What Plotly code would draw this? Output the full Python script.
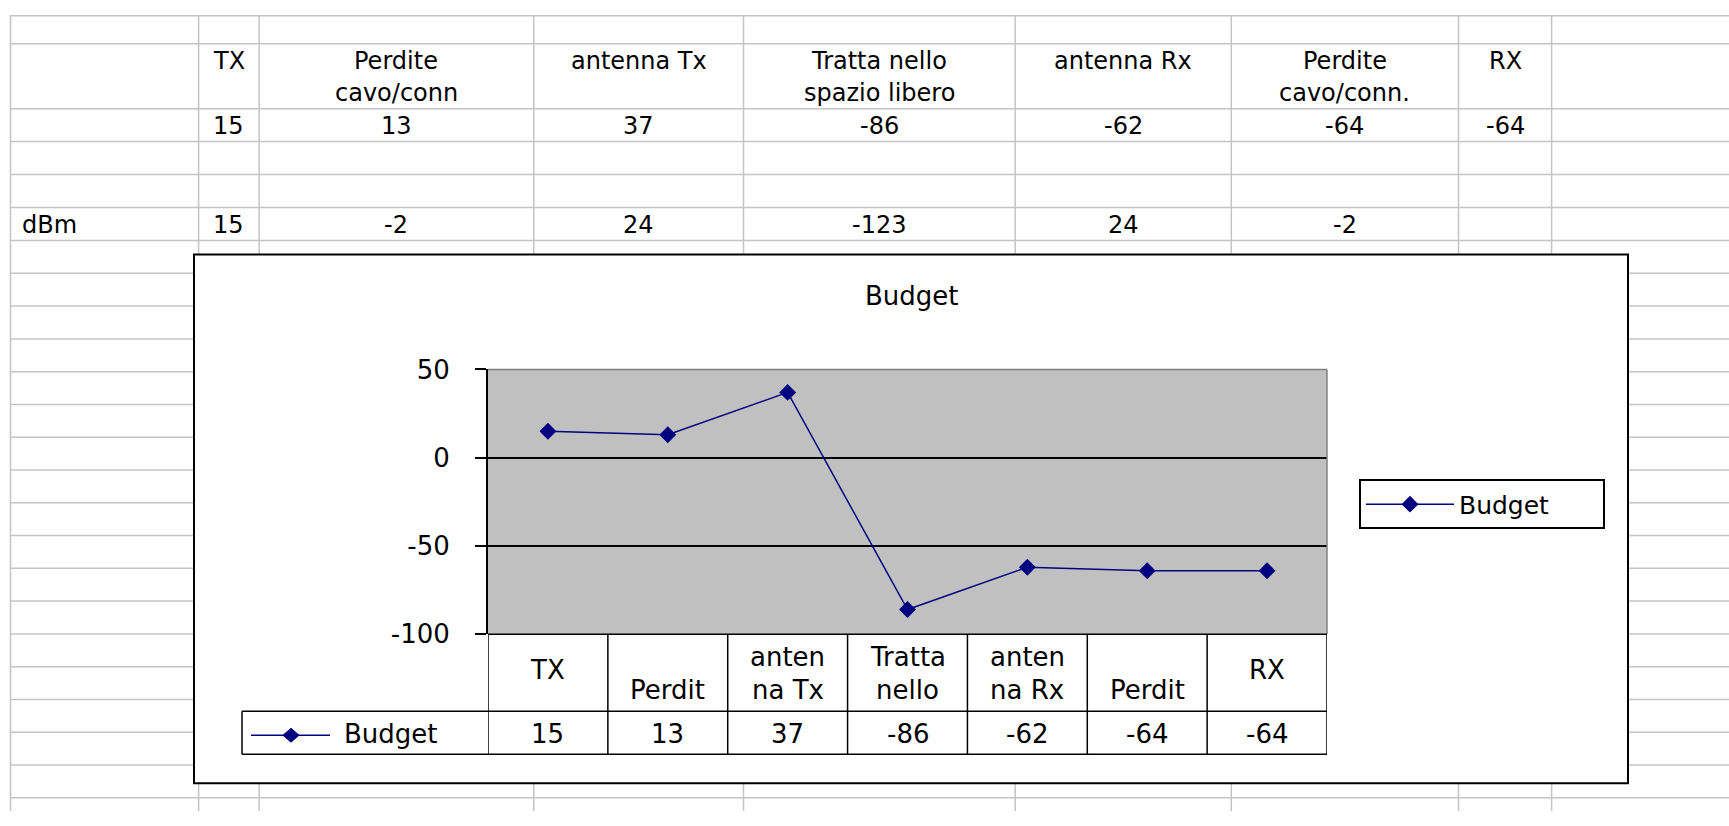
import plotly.graph_objects as go

# ---------------- data ----------------
categories = ["TX", "Perdite cavo/conn", "antenna Tx", "Tratta nello spazio libero",
              "antenna Rx", "Perdite cavo/conn.", "RX"]
sheet_header_lines = [["TX"], ["Perdite", "cavo/conn"], ["antenna Tx"],
                      ["Tratta nello", "spazio libero"], ["antenna Rx"],
                      ["Perdite", "cavo/conn."], ["RX"]]
budget = [15, 13, 37, -86, -62, -64, -64]
dbm = [15, -2, 24, -123, 24, -2, None]
dbm_label = "dBm"
table_labels = [["TX"], ["", "Perdit"], ["anten", "na Tx"], ["Tratta", "nello"],
                ["anten", "na Rx"], ["", "Perdit"], ["RX"]]
y_tickvals = [-100, -50, 0, 50]
y_ticktext = ["-100", "-50", "0", "50"]
series_name = "Budget"
chart_title = "Budget"

# ---------------- layout helpers ----------------
W, H = 1729, 826
FONT = "DejaVu Sans"
GRID = "#C4C4C4"
NAVY = "#000080"


def fx(x):
    return x / W


def fy(y):
    # vertical placement (screen px -> paper), compensated for the capture
    return 1 - (1.037 * y - 13.8) / H


col_edges = [198.6, 259.1, 533.8, 743.5, 1015.2, 1231.3, 1458.5, 1551.6]
sheet_left = 10.5
row_edges = [9, 42, 107, 140, 173, 206, 239] + [239 + 32.8 * k for k in range(1, 18)]

PLOT_L, PLOT_R, PLOT_T, PLOT_B = 488, 1327, 368, 633
TAB_MID, TAB_BOT, TAB_LEFT = 710, 753, 242

shapes = []
# spreadsheet grid
for y in row_edges:
    shapes.append(dict(type="line", xref="paper", yref="paper", x0=fx(sheet_left), x1=1,
                       y0=min(fy(y), 0.999), y1=min(fy(y), 0.999),
                       line=dict(color=GRID, width=1.5), layer="below"))
for x in [sheet_left] + col_edges:
    shapes.append(dict(type="line", xref="paper", yref="paper", x0=fx(x), x1=fx(x),
                       y0=1, y1=0, line=dict(color=GRID, width=1.5), layer="below"))
# chart box
shapes.append(dict(type="rect", xref="paper", yref="paper", x0=fx(194), x1=fx(1628),
                   y0=fy(782), y1=fy(253), fillcolor="white",
                   line=dict(color="black", width=2), layer="below"))
# plot area background
shapes.append(dict(type="rect", xref="x domain", yref="y domain", x0=0, x1=1, y0=0, y1=1,
                   fillcolor="#C0C0C0", line=dict(width=0), layer="below"))
# plot area top/right border
shapes.append(dict(type="line", xref="x domain", yref="y domain", x0=0, x1=1, y0=1, y1=1,
                   line=dict(color="#808080", width=1.5), layer="above"))
shapes.append(dict(type="line", xref="x domain", yref="y domain", x0=1, x1=1, y0=0, y1=1,
                   line=dict(color="#808080", width=1.5), layer="above"))
# data table lines
n = len(categories)
for i in range(n + 1):
    shapes.append(dict(type="line", xref="x", yref="paper", x0=i - 0.5, x1=i - 0.5,
                       y0=fy(TAB_BOT), y1=fy(PLOT_B), line=dict(color="black", width=1.5),
                       layer="above"))
shapes.append(dict(type="line", xref="x", yref="paper", x0=-0.5, x1=n - 0.5,
                   y0=fy(PLOT_B), y1=fy(PLOT_B), line=dict(color="black", width=1.5), layer="above"))
for y in (TAB_MID, TAB_BOT):
    shapes.append(dict(type="line", xref="paper", yref="paper", x0=fx(TAB_LEFT), x1=fx(PLOT_R),
                       y0=fy(y), y1=fy(y), line=dict(color="black", width=1.5), layer="above"))
shapes.append(dict(type="line", xref="paper", yref="paper", x0=fx(TAB_LEFT), x1=fx(TAB_LEFT),
                   y0=fy(TAB_BOT), y1=fy(TAB_MID), line=dict(color="black", width=1.5), layer="above"))
# legend key inside data table
key_y = 734
shapes.append(dict(type="line", xref="paper", yref="paper", x0=fx(251), x1=fx(330),
                   y0=fy(key_y), y1=fy(key_y), line=dict(color=NAVY, width=1.5), layer="above"))
cx, hw, hh = 291, 8, 7
shapes.append(dict(type="path", xref="paper", yref="paper",
                   path=f"M {fx(cx-hw)},{fy(key_y)} L {fx(cx)},{fy(key_y-hh)} L {fx(cx+hw)},{fy(key_y)} L {fx(cx)},{fy(key_y+hh)} Z",
                   fillcolor=NAVY, line=dict(color=NAVY, width=1), layer="above"))

annotations = []
SHEET_FS = 24
CHART_FS = 26


def add_text(text, x, y, xref="paper", size=SHEET_FS, xanchor="center"):
    annotations.append(dict(text=text, x=x, y=fy(y), xref=xref, yref="paper",
                            showarrow=False, xanchor=xanchor, yanchor="middle",
                            font=dict(family=FONT, size=size, color="black")))


col_centers = [(col_edges[i] + col_edges[i + 1]) / 2 for i in range(len(col_edges) - 1)]
# spreadsheet header rows
for c, lines in zip(col_centers, sheet_header_lines):
    for j, line in enumerate(lines):
        add_text(line, fx(c), 59 + 32 * j)
for c, v in zip(col_centers, budget):
    add_text(str(v), fx(c), 124)
add_text(dbm_label, fx(20), 223, xanchor="left")
for c, v in zip(col_centers, dbm):
    if v is not None:
        add_text(str(v), fx(c), 223)

# chart title
add_text(chart_title, fx(912), 294, size=CHART_FS)
# data table text
for i, lines in enumerate(table_labels):
    if len(lines) == 1:
        add_text(lines[0], categories[i], 669, xref="x", size=CHART_FS)
    else:
        for j, line in enumerate(lines):
            if line:
                add_text(line, categories[i], 656 + 33 * j, xref="x", size=CHART_FS)
for i, v in enumerate(budget):
    add_text(str(v), categories[i], 733, xref="x", size=CHART_FS)
add_text(series_name, fx(342), 733, size=CHART_FS, xanchor="left")

fig = go.Figure()
fig.add_trace(go.Scatter(
    x=categories, y=budget, name=series_name, mode="lines+markers",
    line=dict(color=NAVY, width=1.5),
    marker=dict(symbol="diamond", size=13, color=NAVY),
))

fig.update_layout(
    width=W, height=H,
    margin=dict(l=0, r=0, t=0, b=0),
    paper_bgcolor="white",
    plot_bgcolor="rgba(0,0,0,0)",
    font=dict(family=FONT, color="black"),
    showlegend=True,
    legend=dict(x=fx(1359), y=fy(478), xanchor="left", yanchor="top",
                orientation="h", entrywidth=139, entrywidthmode="pixels",
                bgcolor="white", bordercolor="black", borderwidth=2,
                font=dict(family=FONT, size=25, color="black"), itemwidth=88),
    xaxis=dict(domain=[fx(PLOT_L), fx(PLOT_R)], type="category", range=[-0.5, n - 0.5],
               showticklabels=False, showgrid=False, zeroline=False, showline=False,
               ticks=""),
    yaxis=dict(domain=[fy(PLOT_B), fy(PLOT_T)], range=[-100, 50],
               tickvals=y_tickvals, ticktext=y_ticktext,
               showgrid=True, gridcolor="black", gridwidth=1.5, zeroline=False,
               showline=True, linecolor="black", linewidth=2,
               ticks="outside", ticklen=11, tickwidth=2, tickcolor="black",
               tickfont=dict(family=FONT, size=CHART_FS, color="black"),
               ticklabelstandoff=20),
    shapes=shapes,
    annotations=annotations,
)

fig.write_html("out.html", config={"displayModeBar": False},
               post_script="document.body.style.margin='0px';")
